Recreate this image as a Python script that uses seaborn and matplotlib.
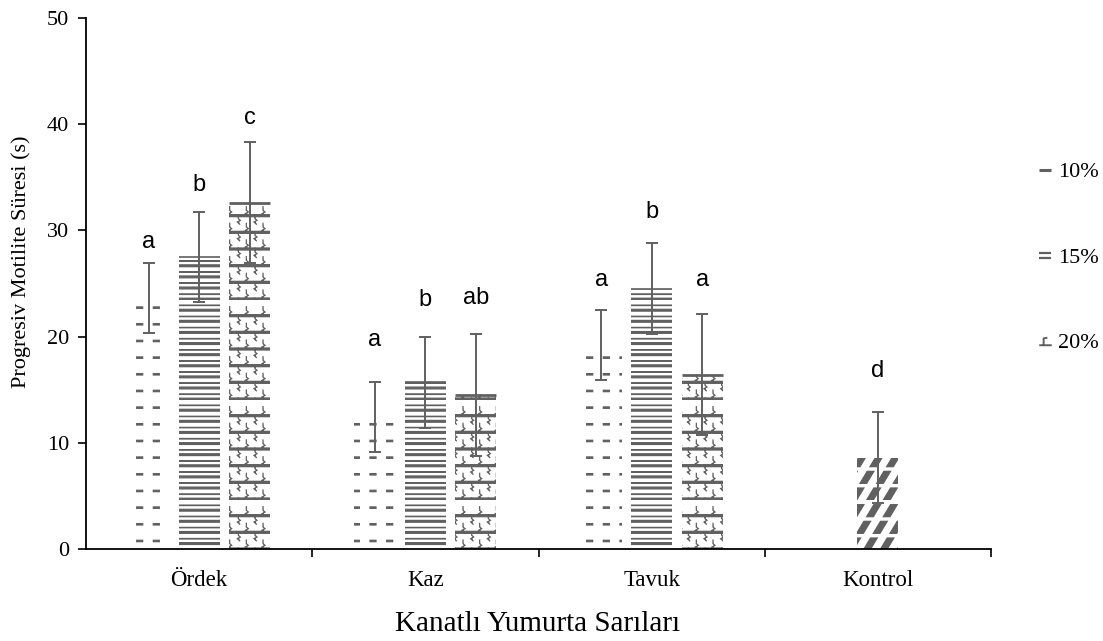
import warnings
warnings.filterwarnings("ignore")
import numpy as np
import pandas as pd
import matplotlib
matplotlib.use("Agg")
import matplotlib.pyplot as plt
import matplotlib.hatch as mhatch
from matplotlib.path import Path
from matplotlib.lines import Line2D
import seaborn as sns

# ---------------- data ----------------
groups = ["Ördek", "Kaz", "Tavuk", "Kontrol"]
levels = ["10%", "15%", "20%"]
bar_group = ["Ördek", "Ördek", "Ördek", "Kaz", "Kaz", "Kaz", "Tavuk", "Tavuk", "Tavuk", "Kontrol"]
bar_level = ["10%", "15%", "20%", "10%", "15%", "20%", "10%", "15%", "20%", "15%"]
means = [23.6, 27.5, 32.6, 12.4, 15.7, 14.5, 19.2, 24.5, 16.4, 8.6]
errors = [3.3, 4.2, 5.7, 3.3, 4.3, 5.7, 3.3, 4.3, 5.7, 4.3]
letters = ["a", "b", "c", "a", "b", "ab", "a", "b", "a", "d"]
letter_y = [28.9, 34.3, 40.6, 19.7, 23.4, 23.6, 25.3, 31.7, 25.3, 16.8]
y_ticks = [0, 10, 20, 30, 40, 50]

# ---------------- custom hatches ----------------
def _rect(v, c, k, x0, y0, w, h):
    v[k:k + 5] = [(x0, y0), (x0 + w, y0), (x0 + w, y0 + h), (x0, y0 + h), (x0, y0)]
    c[k:k + 5] = [Path.MOVETO, Path.LINETO, Path.LINETO, Path.LINETO, Path.CLOSEPOLY]
    return k + 5


class DashHatch(mhatch.HatchPatternBase):
    def __init__(self, hatch, density):
        self.n = int(hatch.count("d") * density)
        self.num_vertices = self.n * self.n * 5

    def set_vertices_and_codes(self, v, c):
        n = self.n
        s = 1.0 / n
        k = 0
        for i in range(n):
            for j in range(n):
                k = _rect(v, c, k, i * s + 0.2 * s, j * s + 0.5 * s, 0.36 * s, 0.014)


class StripeHatch(mhatch.HatchPatternBase):
    def __init__(self, hatch, density):
        self.n = int(hatch.count("h") * density)
        self.num_vertices = self.n * 5

    def set_vertices_and_codes(self, v, c):
        n = self.n
        s = 1.0 / n
        k = 0
        for j in range(n):
            h = 0.018 if j % 2 == 0 else 0.004
            k = _rect(v, c, k, 0.0, j * s, 1.0, h)


class WeaveHatch(mhatch.HatchPatternBase):
    def __init__(self, hatch, density):
        self.n = int(hatch.count("w") * density)
        self.num_vertices = self.n * 5 + self.n * self.n * 2 * 5

    def set_vertices_and_codes(self, v, c):
        n = self.n
        s = 1.0 / n
        k = 0
        for j in range(n):
            k = _rect(v, c, k, 0.0, j * s, 1.0, 0.02)
        for j in range(n):
            for i in range(n):
                for off, dy in ((0.3, 0.0), (0.78, 0.5)):
                    x = (i + off) * s
                    y = j * s + dy * s
                    pts = [(x, y + 0.1 * s), (x, y - 0.12 * s), (x + 0.12 * s, y - 0.22 * s),
                           (x - 0.06 * s, y - 0.32 * s), (x + 0.08 * s, y - 0.45 * s)]
                    v[k:k + 5] = pts
                    c[k:k + 5] = [Path.MOVETO, Path.LINETO, Path.LINETO, Path.LINETO, Path.LINETO]
                    k += 5


class BandHatch(mhatch.HatchPatternBase):
    def __init__(self, hatch, density):
        self.n = int(hatch.count("s") * density)
        self.num_vertices = (2 * self.n + 1) * self.n * 5 if self.n else 0

    def set_vertices_and_codes(self, v, c):
        n = self.n
        s = 1.0 / n
        k = 0
        w = 0.4 * s
        for i in range(-n, n + 1):
            for j in range(n):
                y0 = j * s
                y1 = y0 + 0.72 * s
                x0 = i * s + y0 * 0.6
                x1 = i * s + y1 * 0.6
                v[k:k + 5] = [(x0, y0), (x0 + w, y0), (x1 + w, y1), (x1, y1), (x0, y0)]
                c[k:k + 5] = [Path.MOVETO, Path.LINETO, Path.LINETO, Path.LINETO, Path.CLOSEPOLY]
                k += 5


mhatch._hatch_types.extend([DashHatch, StripeHatch, WeaveHatch, BandHatch])

# ---------------- figure ----------------
sns.set_theme(style="white")
plt.rcParams["font.family"] = ["Liberation Serif", "DejaVu Serif"]
plt.rcParams["hatch.linewidth"] = 0.9
plt.rcParams["text.color"] = "black"
plt.rcParams["xtick.labelcolor"] = "black"
plt.rcParams["ytick.labelcolor"] = "black"

W, H = 1103, 641
fig = plt.figure(figsize=(W / 100, H / 100), dpi=100)
ax = fig.add_axes([86 / W, 1 - 549 / H, (991 - 86) / W, (549 - 18) / H])

df = pd.DataFrame({"grup": bar_group, "oran": bar_level, "deger": means})
sns.barplot(data=df, x="grup", y="deger", hue="oran", order=groups, hue_order=levels,
            errorbar=None, width=0.67, gap=0.19, color="white", ax=ax, legend=False,
            saturation=1)

hatch_for = {"10%": "d", "15%": "hhh", "20%": "w"}
gray = "#606060"
key = {(g, l): i for i, (g, l) in enumerate(zip(bar_group, bar_level))}
for lev, cont in zip(levels, ax.containers):
    for bar in cont:
        xc = bar.get_x() + bar.get_width() / 2
        g = groups[int(round(xc))]
        if (g, lev) not in key:
            continue
        i = key[(g, lev)]
        bar.set_facecolor("white")
        bar.set_edgecolor(gray)
        bar.set_linewidth(0)
        bar.set_hatch("s" if g == "Kontrol" else hatch_for[lev])
        if lev != "10%" and g != "Kontrol":
            ax.plot([bar.get_x(), bar.get_x() + bar.get_width()], [bar.get_height()] * 2,
                    color=gray, lw=2.0 if lev == "20%" else 1.2, solid_capstyle="butt", zorder=4)
        ax.errorbar(xc, means[i], yerr=errors[i], fmt="none", ecolor=gray,
                    elinewidth=1.4, capsize=4, capthick=1.4, zorder=5)
        ax.text(xc, letter_y[i], letters[i], ha="center", va="center",
                fontsize=17, family=["Liberation Sans", "DejaVu Sans"], color="black")

ax.set_ylim(0, 50)
ax.set_xlim(-0.5, 3.5)
ax.set_yticks(y_ticks)
ax.set_yticklabels([str(t) for t in y_ticks], fontsize=16)
ax.set_xticks([0.5, 1.5, 2.5, 3.5])
ax.set_xticklabels([])
ax.set_xticks(range(len(groups)), minor=True)
ax.set_xticklabels(groups, minor=True, fontsize=16.5)
ax.tick_params(axis="x", which="major", direction="out", length=6, width=1.2, color="black", bottom=True)
ax.tick_params(axis="x", which="minor", length=0, pad=15)
ax.tick_params(axis="y", direction="out", length=6, width=1.2, color="black", left=True, pad=6)

for side in ["top", "right"]:
    ax.spines[side].set_visible(False)
for side in ["left", "bottom"]:
    ax.spines[side].set_color("black")
    ax.spines[side].set_linewidth(1.3)

ax.set_xlabel("")
ax.set_ylabel("")
fig.text(538 / W, 1 - 624 / H, "Kanatlı Yumurta Sarıları", ha="center", va="center", fontsize=21)
fig.text(21 / W, 1 - 262 / H, "Progresiv Motilite Süresi (s)", ha="center", va="center",
         rotation=90, fontsize=16)

# legend swatches (tiny pattern samples)
m10 = Path([(-1, 0), (1, 0)], [Path.MOVETO, Path.LINETO])
m15 = Path([(-1, 0.4), (1, 0.4), (-1, -0.4), (1, -0.4)],
           [Path.MOVETO, Path.LINETO, Path.MOVETO, Path.LINETO])
m20 = Path([(-1, -0.6), (1, -0.6), (-0.3, -0.6), (-0.3, 0.5), (0.3, 0.6)],
           [Path.MOVETO, Path.LINETO, Path.MOVETO, Path.LINETO, Path.LINETO])
handles = [Line2D([], [], ls="none", marker=m, markersize=9, markeredgewidth=mw,
                  markeredgecolor=gray, markerfacecolor="none")
           for m, mw in ((m10, 2.2), (m15, 1.6), (m20, 1.4))]
fig.legend(handles, levels, loc="center left", bbox_to_anchor=(1028 / W, 1 - 258 / H),
           frameon=False, fontsize=16, handlelength=0.5, handleheight=0.5,
           handletextpad=0.35, labelspacing=3.0, borderpad=0)

fig.savefig("out.png", dpi=100)
